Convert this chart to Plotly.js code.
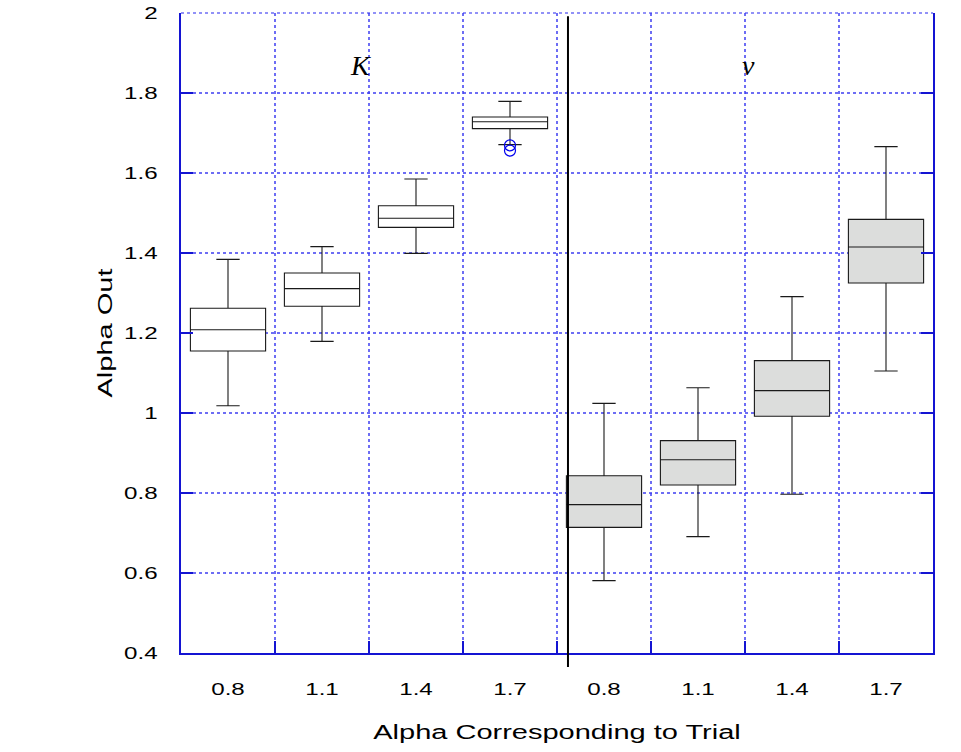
<!DOCTYPE html>
<html>
<head>
<meta charset="utf-8">
<script src="https://cdn.plot.ly/plotly-3.0.1.min.js"></script>
<style>html,body{margin:0;padding:0;background:#fff;}#chart{width:961px;height:752px;}</style>
</head>
<body>
<div id="chart"></div>
<script>
// Tick labels (alpha corresponding to trial), two groups: K and nu
const tickLabels = ["0.8", "1.1", "1.4", "1.7", "0.8", "1.1", "1.4", "1.7"];
const positions = [0, 1, 2, 3, 4, 5, 6, 7];

// Group K (white boxes)
const kPos = [0, 1, 2, 3];
const kLower = [1.018, 1.179, 1.399, 1.671];
const kQ1 = [1.155, 1.267, 1.464, 1.711];
const kMedian = [1.208, 1.311, 1.487, 1.728];
const kQ3 = [1.262, 1.350, 1.518, 1.740];
const kUpper = [1.384, 1.416, 1.585, 1.779];

// Group nu (grey boxes)
const vPos = [4, 5, 6, 7];
const vLower = [0.581, 0.691, 0.797, 1.105];
const vQ1 = [0.714, 0.820, 0.992, 1.325];
const vMedian = [0.771, 0.883, 1.056, 1.415];
const vQ3 = [0.843, 0.931, 1.131, 1.484];
const vUpper = [1.024, 1.063, 1.291, 1.666];

// Outliers
const outX = [3, 3];
const outY = [1.669, 1.656];

// Separators between trials (grid)
const gridPos = [0.5, 1.5, 2.5, 3.5, 4.5, 5.5, 6.5];
const yTicks = [0.4, 0.6, 0.8, 1, 1.2, 1.4, 1.6, 1.8, 2];
const yTickText = ["0.4", "0.6", "0.8", "1", "1.2", "1.4", "1.6", "1.8", "2"];

const gridColor = "rgba(60,60,240,0.75)";
const axisBlue = "#1414d2";

const traces = [
  {
    type: "box", x: kPos, q1: kQ1, median: kMedian, q3: kQ3,
    lowerfence: kLower, upperfence: kUpper,
    width: 0.8, whiskerwidth: 0.31, boxpoints: false,
    fillcolor: "#ffffff", line: {color: "#1a1a1a", width: 1.1},
    hoverinfo: "skip", showlegend: false
  },
  {
    type: "box", x: vPos, q1: vQ1, median: vMedian, q3: vQ3,
    lowerfence: vLower, upperfence: vUpper,
    width: 0.8, whiskerwidth: 0.31, boxpoints: false,
    fillcolor: "#dcdddc", line: {color: "#1a1a1a", width: 1.1},
    hoverinfo: "skip", showlegend: false
  },
  {
    type: "scatter", mode: "markers", x: outX, y: outY, xaxis: "x2",
    marker: {symbol: "circle-open", size: 11, color: "#0000ee", line: {width: 1.2}},
    hoverinfo: "skip", showlegend: false
  }
];

const layout = {
  width: 961, height: 752,
  margin: {l: 181, r: 28, t: 13, b: 99},
  paper_bgcolor: "#ffffff", plot_bgcolor: "#ffffff",
  font: {family: "Liberation Sans, Arial, sans-serif", size: 17, color: "#000"},
  showlegend: false,
  xaxis: {
    range: [-0.5, 7.5], tickmode: "array", tickvals: positions, ticktext: tickLabels,
    showgrid: false, zeroline: false, ticks: "",
    showline: true, linecolor: axisBlue, linewidth: 2, mirror: false,
    ticklabelstandoff: 20,
    tickfont: {size: 17, color: "#000"},
    title: {text: "Alpha Corresponding to Trial", font: {size: 20, color: "#000"}, standoff: 27}
  },
  xaxis2: {
    overlaying: "x", side: "bottom", range: [-0.5, 7.5],
    tickmode: "array", tickvals: gridPos, showticklabels: false,
    showgrid: true, gridcolor: gridColor, griddash: "3px,3px", gridwidth: 1.3,
    ticks: "inside", ticklen: 12, tickcolor: axisBlue, tickwidth: 1.6,
    zeroline: false, showline: false
  },
  yaxis: {
    range: [0.4, 2], tickmode: "array", tickvals: yTicks, ticktext: yTickText,
    showgrid: true, gridcolor: gridColor, griddash: "3px,3px", gridwidth: 1.3,
    zeroline: false, ticks: "inside", ticklen: 12, tickcolor: axisBlue, tickwidth: 1.6,
    showline: true, linecolor: axisBlue, linewidth: 2, mirror: "ticks",
    ticklabelstandoff: 18,
    tickfont: {size: 17, color: "#000"},
    title: {text: "Alpha Out", font: {size: 20, color: "#000"}, standoff: 16}
  },
  shapes: [
    {type: "line", xref: "paper", yref: "paper", x0: 0, x1: 1, y0: 1, y1: 1,
     line: {color: gridColor, width: 1.3, dash: "3px,3px"}},
    {type: "line", xref: "paper", yref: "paper", x0: 0.5146, x1: 0.5146, y0: -0.022, y1: 0.995,
     line: {color: "#000", width: 2}}
  ],
  annotations: [
    {x: 1.41, y: 1.87, xref: "x", yref: "y", text: "K", showarrow: false,
     font: {family: "Liberation Serif, Times New Roman, serif", size: 28, color: "#000", style: "italic"}},
    {x: 5.54, y: 1.87, xref: "x", yref: "y", text: "ν", showarrow: false,
     font: {family: "Liberation Serif, Times New Roman, serif", size: 28, color: "#000", style: "italic"}}
  ]
};

function widen(selector, k) {
  document.querySelectorAll(selector).forEach(function (t) {
    const L = t.getComputedTextLength();
    if (L > 0) {
      t.setAttribute("textLength", (L * k).toFixed(2));
      t.setAttribute("lengthAdjust", "spacingAndGlyphs");
    }
  });
}

Plotly.newPlot("chart", traces, layout, {displayModeBar: false, staticPlot: true}).then(function () {
  widen(".xtick text", 1.42);
  widen(".ytick text", 1.42);
  widen("text.xtitle", 1.45);
  widen("text.ytitle", 1.45);
});
</script>
</body>
</html>
